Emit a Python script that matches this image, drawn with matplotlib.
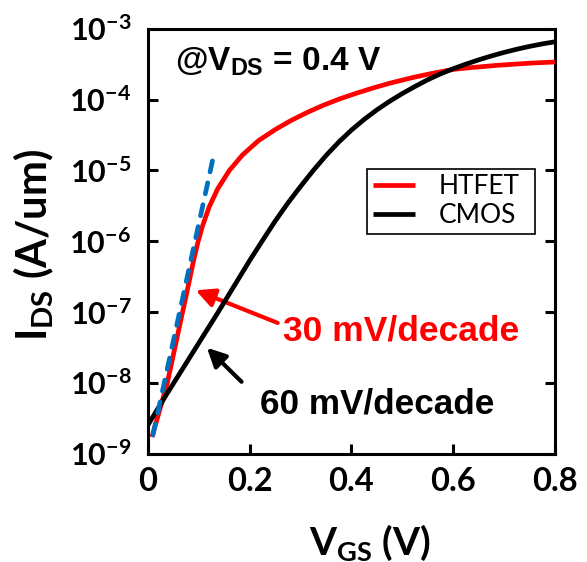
import numpy as np
import matplotlib
matplotlib.use("Agg")
import matplotlib.pyplot as plt
from matplotlib.ticker import FixedLocator, FuncFormatter

plt.rcParams["mathtext.fontset"] = "custom"
plt.rcParams["mathtext.rm"] = "Lato:bold"
plt.rcParams["mathtext.bf"] = "Lato:bold"
plt.rcParams["mathtext.it"] = "Lato:bold"
plt.rcParams["mathtext.sf"] = "Liberation Sans:bold"

# HTFET transfer curve (V_GS in V, log10 of I_DS in A/um)
htfet_vgs = [0.008, 0.038, 0.068, 0.078, 0.085, 0.091, 0.098, 0.107, 0.120, 0.137,
             0.160, 0.186, 0.218, 0.251, 0.280, 0.312, 0.343, 0.377, 0.410, 0.441,
             0.475, 0.520, 0.559, 0.600, 0.626, 0.690, 0.755, 0.800]
htfet_log = [-8.76, -8.00, -7.00, -6.67, -6.43, -6.23, -6.02, -5.79, -5.52, -5.26,
             -5.00, -4.78, -4.575, -4.42, -4.30, -4.185, -4.085, -3.99, -3.91, -3.84,
             -3.77, -3.69, -3.63, -3.575, -3.555, -3.515, -3.485, -3.47]

# CMOS transfer curve
cmos_vgs = [0.000, 0.033, 0.137, 0.200, 0.225, 0.250, 0.275, 0.300, 0.325, 0.350,
            0.375, 0.400, 0.425, 0.450, 0.475, 0.500, 0.525, 0.550, 0.575, 0.600,
            0.625, 0.650, 0.675, 0.700, 0.725, 0.750, 0.775, 0.800]
cmos_log = [-8.59, -8.20, -7.01, -6.27, -5.99, -5.715, -5.46, -5.225, -5.00, -4.79,
            -4.60, -4.43, -4.28, -4.145, -4.025, -3.915, -3.815, -3.72, -3.638, -3.565,
            -3.50, -3.44, -3.385, -3.335, -3.29, -3.25, -3.215, -3.185]

# 30 mV/decade reference line (end points)
ref_vgs = [0.0098, 0.127]
ref_log = [-8.73, -4.86]

x_ticks = [0, 0.2, 0.4, 0.6, 0.8]
x_tick_labels = ["0", "0.2", "0.4", "0.6", "0.8"]
y_exponents = [-9, -8, -7, -6, -5, -4, -3]

# annotation arrows: (tip, tail) in data coordinates
red_arrow = ((0.094, 10 ** -6.69), (0.255, 10 ** -7.15))
black_arrow = ((0.116, 10 ** -7.50), (0.184, 10 ** -7.98))

RED = "#FF0000"
BLUE = "#0070C0"

fig = plt.figure(figsize=(5.87, 5.62), dpi=100)
ax = fig.add_axes([0.252, 0.192, 0.6934, 0.757])

ax.plot(htfet_vgs, 10 ** np.array(htfet_log), color=RED, lw=3.4, label="HTFET",
        solid_capstyle="butt", solid_joinstyle="round", zorder=3)
ax.plot(cmos_vgs, 10 ** np.array(cmos_log), color="black", lw=3.4, label="CMOS",
        solid_capstyle="butt", solid_joinstyle="round", zorder=4)
ax.plot(ref_vgs, 10 ** np.array(ref_log), color=BLUE, lw=3.4, dashes=(2.4, 2.35),
        dash_capstyle="round", zorder=5)

ax.set_yscale("log")
ax.set_xlim(0, 0.8)
ax.set_ylim(1e-9, 1e-3)

ax.xaxis.set_major_locator(FixedLocator(x_ticks))
ax.set_xticklabels(x_tick_labels, fontfamily="Lato", fontweight="bold", fontsize=23.5)
ax.yaxis.set_major_locator(FixedLocator([10.0 ** e for e in y_exponents]))
ax.yaxis.set_minor_locator(FixedLocator([]))
ax.yaxis.set_major_formatter(
    FuncFormatter(lambda v, pos: r"$\mathrm{10^{%d}}$" % int(round(np.log10(v)))))
for lab in ax.get_yticklabels():
    lab.set_fontsize(22)

ax.tick_params(axis="both", which="major", direction="in", length=7, width=2.2,
               color="black")
ax.tick_params(axis="y", right=True, pad=12)
ax.tick_params(axis="x", top=False, pad=9)
for sp in ax.spines.values():
    sp.set_linewidth(2.2)

leg = ax.legend(loc="upper left", bbox_to_anchor=(0.538, 0.519, 0.413, 0.152),
                mode="expand", borderaxespad=0, fancybox=False, framealpha=1,
                edgecolor="black", prop={"family": "Lato", "size": 19},
                handlelength=1.6, handletextpad=0.9, borderpad=0.22,
                labelspacing=0.15)
leg.get_frame().set_linewidth(1.2)

ax.text(0.066, 0.901, r"@$\mathsf{V_{DS}}$ = 0.4 V", transform=ax.transAxes,
        fontfamily="Liberation Sans", fontweight="bold", fontsize=24, va="baseline")
ax.text(0.332, 0.268, "30 mV/decade", transform=ax.transAxes, color=RED,
        fontfamily="Liberation Sans", fontweight="bold", fontsize=25.5, va="baseline")
ax.text(0.275, 0.096, "60 mV/decade", transform=ax.transAxes, color="black",
        fontfamily="Liberation Sans", fontweight="bold", fontsize=25.3, va="baseline")

for (tip, tail), col in [(red_arrow, RED), (black_arrow, "black")]:
    ax.annotate("", xy=tip, xytext=tail,
                arrowprops=dict(arrowstyle="-|>", color=col, lw=3,
                                mutation_scale=28, shrinkA=0, shrinkB=0))

fig.text(0.630, 0.0125, r"$\mathrm{V_{GS}}$ (V)", fontfamily="Lato",
         fontweight="bold", fontsize=28, ha="center", va="baseline")
fig.text(0.058, 0.564, r"$\mathrm{I_{DS}}$ (A/um)", fontfamily="Lato",
         fontweight="bold", fontsize=30, ha="center", va="center", rotation=90)

fig.savefig("out.png", dpi=100)
